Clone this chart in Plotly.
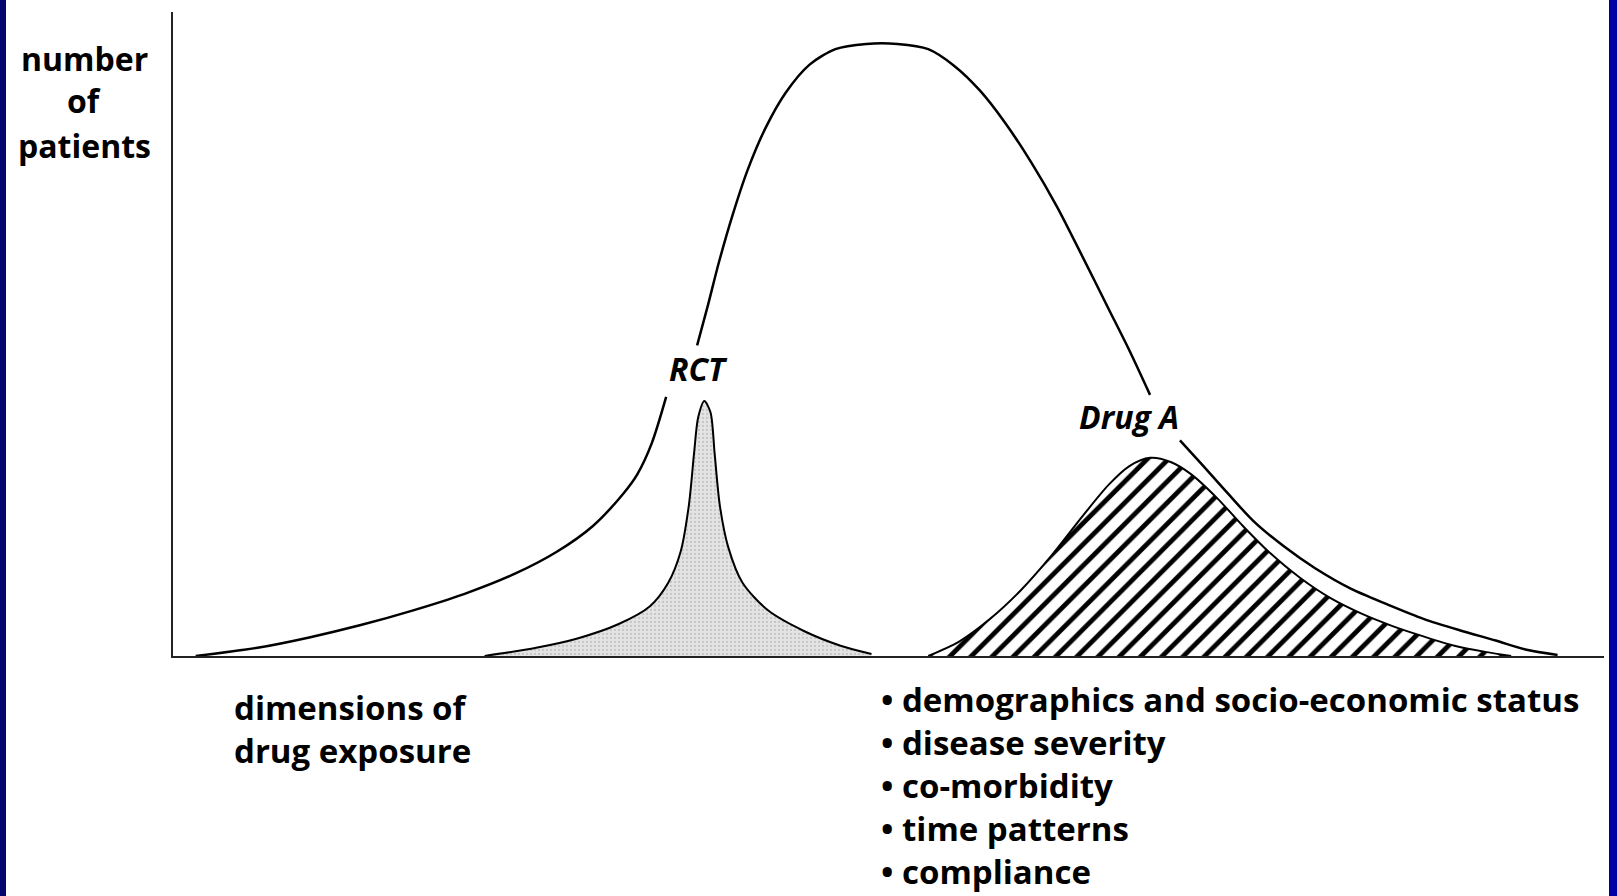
import plotly.graph_objects as go

# ---- data (x: dimension of drug exposure, y: number of patients; arbitrary units) ----
pop_left_x = [22, 82, 132, 182, 232, 282, 332, 372, 407, 437, 450, 464, 478]
pop_left_y = [0, 8, 18, 30, 44, 60, 80, 101, 126, 158, 176, 206, 251]

pop_top_x = [508, 518, 529, 542, 557, 574, 594, 617, 642, 672, 702, 732, 757, 782, 807, 832, 857, 882, 907, 927, 947]
pop_top_y = [301, 338, 381, 426, 471, 511, 546, 573, 588, 593, 593, 588, 572, 548, 516, 478, 435, 386, 336, 296, 253]

pop_right_x = [976, 997, 1022, 1047, 1077, 1107, 1142, 1177, 1212, 1247, 1282, 1312, 1342]
pop_right_y = [209, 186, 158, 131, 106, 85, 65, 50, 36, 25, 15, 6, 1]

rct_x = [302, 352, 392, 432, 462, 480, 492, 500, 505, 509, 515, 521, 525, 530, 538, 552, 577, 612, 647, 677]
rct_y = [0, 8, 17, 31, 48, 71, 101, 146, 196, 231, 247, 236, 196, 146, 106, 71, 44, 24, 10, 2]

druga_x = [732, 762, 792, 822, 852, 882, 907, 927, 947, 967, 987, 1012, 1037, 1062, 1092, 1122, 1152, 1182, 1212, 1242, 1272, 1297]
druga_y = [0, 14, 36, 64, 98, 136, 166, 184, 192, 188, 176, 153, 126, 101, 76, 56, 41, 29, 19, 10, 4, 0]

y_axis_label = ["number", "of", "patients"]
x_axis_label = ["dimensions of", "drug exposure"]
bullets = ["demographics and socio-economic status", "disease severity",
           "co-morbidity", "time patterns", "compliance"]
curve_labels = ["RCT", "Drug A"]

# ---- layout geometry ----
W, H = 1617, 896
ML, MR, MT, MB = 173, 13, 12, 240
X_MAX, Y_MAX = 1387, 624
PW, PH = W - ML - MR, H - MT - MB


def px_x(px):
    return (px - ML) / PW


def px_y(py):
    return (H - MB - py) / PH


FONT = "Open Sans"

fig = go.Figure()

# RCT (gray, stippled)
fig.add_trace(go.Scatter(
    x=rct_x, y=rct_y, mode="lines", fill="tozeroy",
    line=dict(color="black", width=2, shape="spline", smoothing=0.8),
    fillcolor="#e0e0e0",
    fillpattern=dict(shape=".", fgcolor="#a8a8a8", bgcolor="#e4e4e4", size=4, solidity=0.25),
    hoverinfo="skip", showlegend=False))

# Drug A (hatched)
fig.add_trace(go.Scatter(
    x=druga_x, y=druga_y, mode="lines", fill="tozeroy",
    line=dict(color="black", width=2, shape="spline", smoothing=0.8),
    fillcolor="white",
    fillpattern=dict(shape="/", fgcolor="black", fgopacity=1, bgcolor="white", size=15, solidity=0.32),
    hoverinfo="skip", showlegend=False))

# population curve (three segments, gaps for labels)
for xs, ys in [(pop_left_x, pop_left_y), (pop_top_x, pop_top_y), (pop_right_x, pop_right_y)]:
    fig.add_trace(go.Scatter(
        x=xs, y=ys, mode="lines",
        line=dict(color="black", width=2.5, shape="spline", smoothing=0.8),
        hoverinfo="skip", showlegend=False))


def ann(text, xx, yy, anchor, size=33, weight=700, align="left"):
    return dict(x=xx / X_MAX, y=yy / Y_MAX, xref="paper", yref="paper", text=text,
                showarrow=False, xanchor=anchor, yanchor="middle", align=align,
                font=dict(family=FONT, size=size, color="black", weight=weight))


annotations = []
for t, yy in zip(y_axis_label, [579, 538, 495]):
    annotations.append(ann(t, -86, yy, "center", size=32))
for t, yy in zip(x_axis_label, [-50, -92]):
    annotations.append(ann(t, 57, yy, "left"))
annotations.append(ann("<br>".join("\u2022 " + b for b in bullets), 684, -125, "left", size=33))
for t, (xx, yy) in zip(curve_labels, [(509, 279), (927, 232)]):
    annotations.append(ann("<i>" + t + "</i>", xx, yy, "center", size=32))

shapes = [
    dict(type="rect", xref="paper", yref="paper", x0=px_x(-5), x1=px_x(6), y0=px_y(H + 5), y1=px_y(-5),
         fillcolor="#05056e", line=dict(width=0), layer="above"),
    dict(type="rect", xref="paper", yref="paper", x0=px_x(1609), x1=px_x(W + 5), y0=px_y(H + 5), y1=px_y(-5),
         fillcolor="#0000a4", line=dict(width=0), layer="above"),
]

fig.update_layout(
    width=W, height=H,
    margin=dict(l=ML, r=MR, t=MT, b=MB, pad=0),
    paper_bgcolor="white", plot_bgcolor="white",
    xaxis=dict(range=[0, X_MAX], showgrid=False, zeroline=False, showticklabels=False, ticks="",
               showline=True, linecolor="#222", linewidth=2, fixedrange=True),
    yaxis=dict(range=[0, Y_MAX], showgrid=False, zeroline=False, showticklabels=False, ticks="",
               showline=True, linecolor="#222", linewidth=2, fixedrange=True),
    annotations=annotations, shapes=shapes, showlegend=False,
)

fig.write_html("out.html", config={"displayModeBar": False},
               post_script="document.body.style.margin='0';document.body.style.overflow='hidden';")
